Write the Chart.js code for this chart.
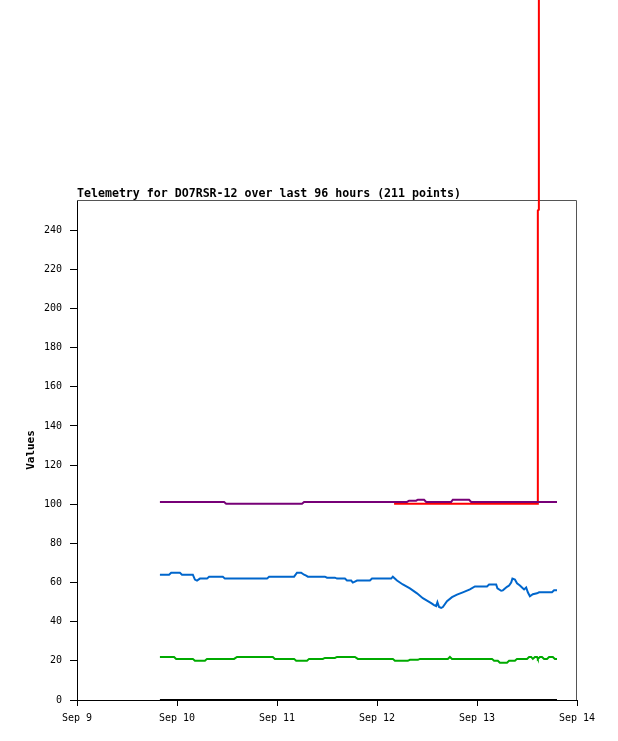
<!DOCTYPE html>
<html>
<head>
<meta charset="utf-8">
<script src="https://cdn.jsdelivr.net/npm/chart.js@4.4.1/dist/chart.umd.min.js"></script>
<style>
html,body{margin:0;padding:0;background:#fff;}
canvas{display:block;}
</style>
</head>
<body>
<canvas id="c" width="618" height="741"></canvas>
<script>
// hours since Sep 9 00:00
const chartTitle = 'Telemetry for DO7RSR-12 over last 96 hours (211 points)';
const axisTitle = 'Values';
const dayLabels = ['Sep 9','Sep 10','Sep 11','Sep 12','Sep 13','Sep 14'];
const yTicksMax = 255.4;

const blueT = [19.9,22.1,22.6,24.7,25.2,27.8,28.3,28.8,29.5,31.2,31.7,35.0,35.5,45.6,46.1,52.1,52.8,53.8,54.5,55.0,55.4,59.5,60.0,61.9,62.4,64.3,64.8,65.8,66.2,66.7,67.2,70.3,70.8,75.4,75.8,76.8,78.2,79.9,81.6,83.0,84.2,85.0,85.7,86.2,86.5,86.9,87.4,87.8,88.8,90.0,91.2,92.6,94.3,95.5,98.4,98.9,100.6,100.9,101.8,102.2,103.2,103.7,104.2,104.5,105.1,105.6,106.3,106.8,107.3,107.8,108.2,108.7,109.4,110.4,110.9,114.0,114.5,115.2];
const blueV = [64,64,65,65,64,64,61.5,61,62,62,63,63,62,62,63,63,65,65,64,63.5,63,63,62.5,62.5,62,62,61,61,60,60.5,61,61,62,62,63,61,59,57,54.5,52,50.5,49.5,48.5,48,50,47.5,47,47.5,50.5,52.5,53.8,55,56.5,58,58,59,59,57,55.8,56,57.8,58.5,60,62,61.5,59.6,58.5,57.5,56.5,57.5,55,53,54,54.5,55,55,56,56];

const greenT = [19.9,23.3,23.8,27.8,28.3,30.7,31.2,37.7,38.4,47.0,47.5,52.1,52.6,55.2,55.7,59.0,59.5,61.9,62.4,66.7,67.4,75.8,76.3,79.4,79.9,81.8,82.3,89.0,89.5,90.0,99.6,100.1,101.0,101.5,103.2,103.7,105.1,105.6,108.0,108.5,109.0,109.4,109.9,110.4,110.6,111.1,111.6,112.1,112.8,113.3,114.2,114.7,115.2];
const greenV = [22,22,21,21,20,20,21,21,22,22,21,21,20,20,21,21,21.5,21.5,22,22,21,21,20,20,20.5,20.5,21,21,22,21,21,20,20,19,19,20,20,21,21,22,22,21,22,22,21,22,22,21,21,22,22,21,21];

const purpleT = [19.9,35.3,35.8,54.0,54.5,79.2,79.7,81.4,81.8,83.3,83.8,89.8,90.2,94.1,94.6,115.2];
const purpleV = [101.2,101.2,100.3,100.3,101.2,101.2,101.8,101.8,102.3,102.3,101.2,101.2,102.3,102.3,101.2,101.2];

const redT = [76.1,110.6,110.6,110.8,110.85];
const redV = [100.3,100.3,250,250.5,3000];

const blackT = [19.9,115.2];
const blackV = [0,0];

function pts(t, v){ return t.map((x,i)=>({x:x,y:v[i]})); }

const framePlugin = {
  id:'frame',
  beforeDatasetsDraw(chart){
    const {ctx, chartArea:a} = chart;
    ctx.save();
    ctx.strokeStyle = '#555';
    ctx.lineWidth = 1;
    ctx.beginPath();
    ctx.moveTo(a.left, a.top + 0.5);
    ctx.lineTo(a.right - 0.5, a.top + 0.5);
    ctx.lineTo(a.right - 0.5, a.bottom);
    ctx.stroke();
    ctx.restore();
  },
  afterDraw(chart){
    const {ctx, chartArea:a} = chart;
    ctx.save();
    ctx.fillStyle = '#000';
    ctx.font = 'bold 11.6px "DejaVu Sans Mono", monospace';
    ctx.textAlign = 'left';
    ctx.textBaseline = 'alphabetic';
    ctx.fillText(chartTitle, a.left, a.top - 3);
    ctx.restore();
  }
};

const tickFont = {family:'"DejaVu Sans Mono", monospace', size:10};

new Chart(document.getElementById('c'), {
  type:'line',
  data:{
    datasets:[
      {data:pts(blackT,blackV), borderColor:'#000000', borderWidth:2},
      {data:pts(greenT,greenV), borderColor:'#00aa00', borderWidth:2},
      {data:pts(blueT,blueV), borderColor:'#0066cc', borderWidth:2},
      {data:pts(purpleT,purpleV), borderColor:'#770077', borderWidth:2},
      {data:pts(redT,redV), borderColor:'#ff0000', borderWidth:2, clip:false}
    ]
  },
  options:{
    responsive:false,
    animation:false,
    events:[],
    layout:{padding:{top:200,right:41,left:0,bottom:0}},
    elements:{point:{radius:0}, line:{tension:0, borderJoinStyle:'miter'}},
    plugins:{legend:{display:false}, tooltip:{enabled:false}, title:{display:false}},
    scales:{
      x:{
        type:'linear', min:0, max:120,
        afterFit(s){ s.height = 41; },
        ticks:{stepSize:24, includeBounds:false, autoSkip:false, maxRotation:0, color:'#000', font:tickFont, padding:6,
          callback:(v)=>dayLabels[Math.round(v/24)]},
        grid:{drawOnChartArea:false, drawTicks:true, tickLength:6, color:'#000'},
        border:{color:'#000', width:1}
      },
      y:{
        type:'linear', min:0, max:yTicksMax,
        afterFit(s){ s.width = 77; },
        ticks:{stepSize:20, includeBounds:false, color:'#000', font:tickFont, padding:8},
        grid:{drawOnChartArea:false, drawTicks:true, tickLength:7, color:'#000'},
        border:{color:'#000', width:1},
        title:{display:true, text:axisTitle, color:'#000', font:{family:'"DejaVu Sans Mono", monospace', size:11, weight:'bold'}, padding:{top:25,bottom:0}}
      }
    }
  },
  plugins:[framePlugin]
});
</script>
</body>
</html>
